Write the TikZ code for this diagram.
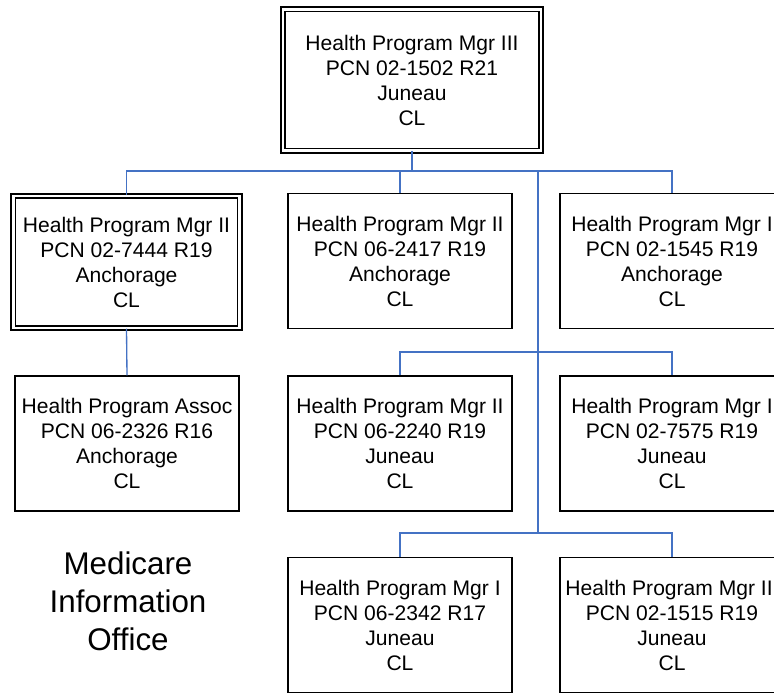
\documentclass[tikz,border=0pt]{standalone}
\usepackage{fontspec}
\setmainfont{Liberation Sans}
\usepackage{xcolor}
\usetikzlibrary{calc}
\definecolor{linkblue}{RGB}{68,114,196}
\tikzset{
  post/.style={draw=black, line width=1.2pt, minimum width=168pt, minimum height=101pt,
    align=center, inner sep=0pt, font=\fontsize{15.8}{18.75}\selectfont},
  headpost/.style={post, double, double distance=2.2pt, line width=1.1pt},
  link/.style={linkblue, line width=1pt}}

\begin{document}
\begin{tikzpicture}[x=0.75pt, y=-0.75pt]
\useasboundingbox (0,0) rectangle (774,694);
\node[headpost, minimum width=193.5pt, minimum height=106pt] (top) at (412,80) {Health Program Mgr III\\PCN 02-1502 R21\\Juneau\\CL};
\node[headpost, minimum width=170pt, minimum height=99pt] (b1) at (126.5,262) {Health Program Mgr II\\PCN 02-7444 R19\\Anchorage\\CL};
\node[post] (b2) at (400,261) {Health Program Mgr II\\PCN 06-2417 R19\\Anchorage\\CL};
\node[post] (b3) at (672,261) {Health Program Mgr I\\PCN 02-1545 R19\\Anchorage\\CL};
\node[post] (c1) at (127,443.5) {Health Program Assoc\\PCN 06-2326 R16\\Anchorage\\CL};
\node[post] (c2) at (400,443.5) {Health Program Mgr II\\PCN 06-2240 R19\\Juneau\\CL};
\node[post] (c3) at (672,443.5) {Health Program Mgr I\\PCN 02-7575 R19\\Juneau\\CL};
\node[post] (d2) at (400,625) {Health Program Mgr I\\PCN 06-2342 R17\\Juneau\\CL};
\node[post] (d3) at (672,625) {Health Program Mgr III\\PCN 02-1515 R19\\Juneau\\CL};
\node[align=center, font=\fontsize{23.5}{28.5}\selectfont] (office) at (128,601) {Medicare\\Information\\Office};
\coordinate (hub) at (412,171);
\coordinate (split3) at (538,352);
\coordinate (split4) at (538,533);
\draw[link] (top.south) -- (hub);
\draw[link] (b1.north) |- (hub) -| (b3.north);
\draw[link] (b2.north) -- (b2.north |- hub);
\draw[link] (hub -| split3) -- (split4);
\draw[link] (c2.north) |- (split3) -| (c3.north);
\draw[link] (d2.north) |- (split4) -| (d3.north);
\draw[link] (b1.south) -- (c1.north);
\end{tikzpicture}
\end{document}
